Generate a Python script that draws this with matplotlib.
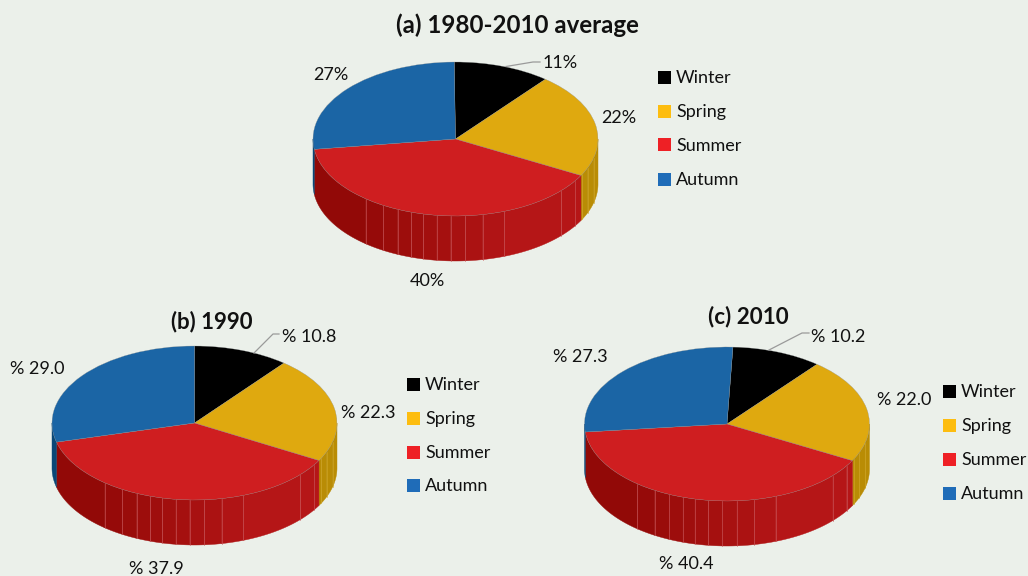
import numpy as np
import matplotlib
matplotlib.use('Agg')
import matplotlib.pyplot as plt
from matplotlib.patches import Rectangle

# Data
seasons = ['Winter', 'Spring', 'Summer', 'Autumn']
avg_values = [11, 22, 40, 27]
y1990_values = [10.8, 22.3, 37.9, 29.0]
y2010_values = [10.2, 22.0, 40.4, 27.3]
avg_labels = ['11%', '22%', '40%', '27%']
y1990_labels = ['% 10.8', '% 22.3', '% 37.9', '% 29.0']
y2010_labels = ['% 10.2', '% 22.0', '% 40.4', '% 27.3']

W, H = 1028, 576
BG = '#ebf0ea'
TOP_COLORS = ['#000000', '#dfa90f', '#cf1e20', '#1b65a5']
WALL_COLORS = ['#000000', '#b98c05', '#a50f0f', '#0a4777']
LEGEND_COLORS = ['#000000', '#fdbd10', '#ee2025', '#1f6cb8']
TEXT = '#111111'

# where the thin facet lines fall on the side wall (degrees clockwise from top)
FACET_ANGLES = [104, 112, 117, 123, 132, 160, 169, 176, 182, 187.5, 193, 198, 204, 210.5, 219]

plt.rcParams['font.family'] = ['Lato', 'DejaVu Sans']

fig = plt.figure(figsize=(W / 100, H / 100), dpi=100, facecolor=BG)


def ell(t):
    t = np.radians(t)
    return np.sin(t), np.cos(t)


def draw_pie(cx, cy, values, start, rx=142.5, ry=77, depth_px=45):
    depth = depth_px / ry
    pad = 1.1
    # axes box in pixels, unit circle squashed into the ellipse
    left = (cx - pad * rx) / W
    bottom = 1 - (cy + (pad + depth) * ry) / H
    ax = fig.add_axes([left, bottom, 2 * pad * rx / W, (2 * pad + depth) * ry / H])
    ax.patch.set_alpha(0)

    edges = start + np.cumsum([0] + list(values)) * 3.6

    # side walls, only the front half of the ellipse shows
    for i in range(4):
        a0, a1 = max(edges[i], 90), min(edges[i + 1], 270)
        if a1 <= a0:
            continue
        cuts = [a0] + [f for f in FACET_ANGLES if a0 < f < a1] + [a1]
        for j in range(len(cuts) - 1):
            t = np.linspace(cuts[j], cuts[j + 1], 30)
            x, y = ell(t)
            xs = np.r_[x, x[::-1]]
            ys = np.r_[y, y[::-1] - depth]
            color = WALL_COLORS[i]
            if i == 2:
                # red wall goes darker towards the left
                f = np.clip((cuts[j] - 150) / 75, 0, 1)
                color = tuple((1 - f) * np.array([0.71, 0.085, 0.09]) + f * np.array([0.56, 0.03, 0.02]))
            ax.fill(xs, ys, color=color, lw=0.3, zorder=1)
        for a in cuts[1:-1]:
            x, y = ell(a)
            c = '#c9575b' if i == 2 else '#d0a628'
            ax.plot([x, x], [y, y - depth], color=c, lw=0.45, zorder=2)

    ax.pie(values, colors=TOP_COLORS, startangle=90 - start, counterclock=False,
           radius=1, wedgeprops=dict(linewidth=0.2, edgecolor='#8a8f90', zorder=3))
    ax.set_aspect('auto')
    ax.set_xlim(-pad, pad)
    ax.set_ylim(-pad - depth, pad)
    return ax


def label(x, y, s, size=13, **kw):
    fig.text(x / W, 1 - y / H, s, ha='center', va='center', fontsize=size, color=TEXT, **kw)


def leader(xs, ys):
    line = plt.Line2D(np.array(xs) / W, 1 - np.array(ys) / H, transform=fig.transFigure,
                      color='#9a9a9a', lw=0.9, zorder=5)
    fig.add_artist(line)


def legend(x, ys):
    for name, c, y in zip(seasons, LEGEND_COLORS, ys):
        fig.add_artist(Rectangle((x / W, 1 - (y + 6.5) / H), 13 / W, 13 / H,
                                 transform=fig.transFigure, color=c, lw=0))
        fig.text((x + 18) / W, 1 - (y + 1) / H, name, ha='left', va='center', fontsize=13, color=TEXT)


# (a)
draw_pie(455.5, 139, avg_values, -0.5)
label(517, 25, '(a) 1980-2010 average', size=17.4, fontweight='bold')
label(560, 63, avg_labels[0])
label(619, 118, avg_labels[1])
label(427, 281, avg_labels[2])
label(331, 75, avg_labels[3])
leader([506, 533, 540], [66.5, 62, 62])
legend(658, [77, 111, 145, 179])

# (b)
draw_pie(194.5, 423, y1990_values, 0)
label(212, 322, '(b) 1990', size=16, fontweight='bold')
label(309, 337, y1990_labels[0])
label(368, 413, y1990_labels[1])
label(156, 569, y1990_labels[2])
label(37, 369, y1990_labels[3])
leader([254, 273, 279], [353, 334, 334])
legend(407, [384, 418, 452, 485])

# (c)
draw_pie(727, 424, y2010_values, 2.4)
label(748, 317, '(c) 2010', size=16.2, fontweight='bold')
label(838, 337, y2010_labels[0])
label(904, 400, y2010_labels[1])
label(686, 564, y2010_labels[2])
label(580, 357, y2010_labels[3])
leader([769, 802, 809], [350, 333, 333])
legend(943, [391, 425, 459, 493])

fig.savefig('out.png', dpi=100, facecolor=BG)
